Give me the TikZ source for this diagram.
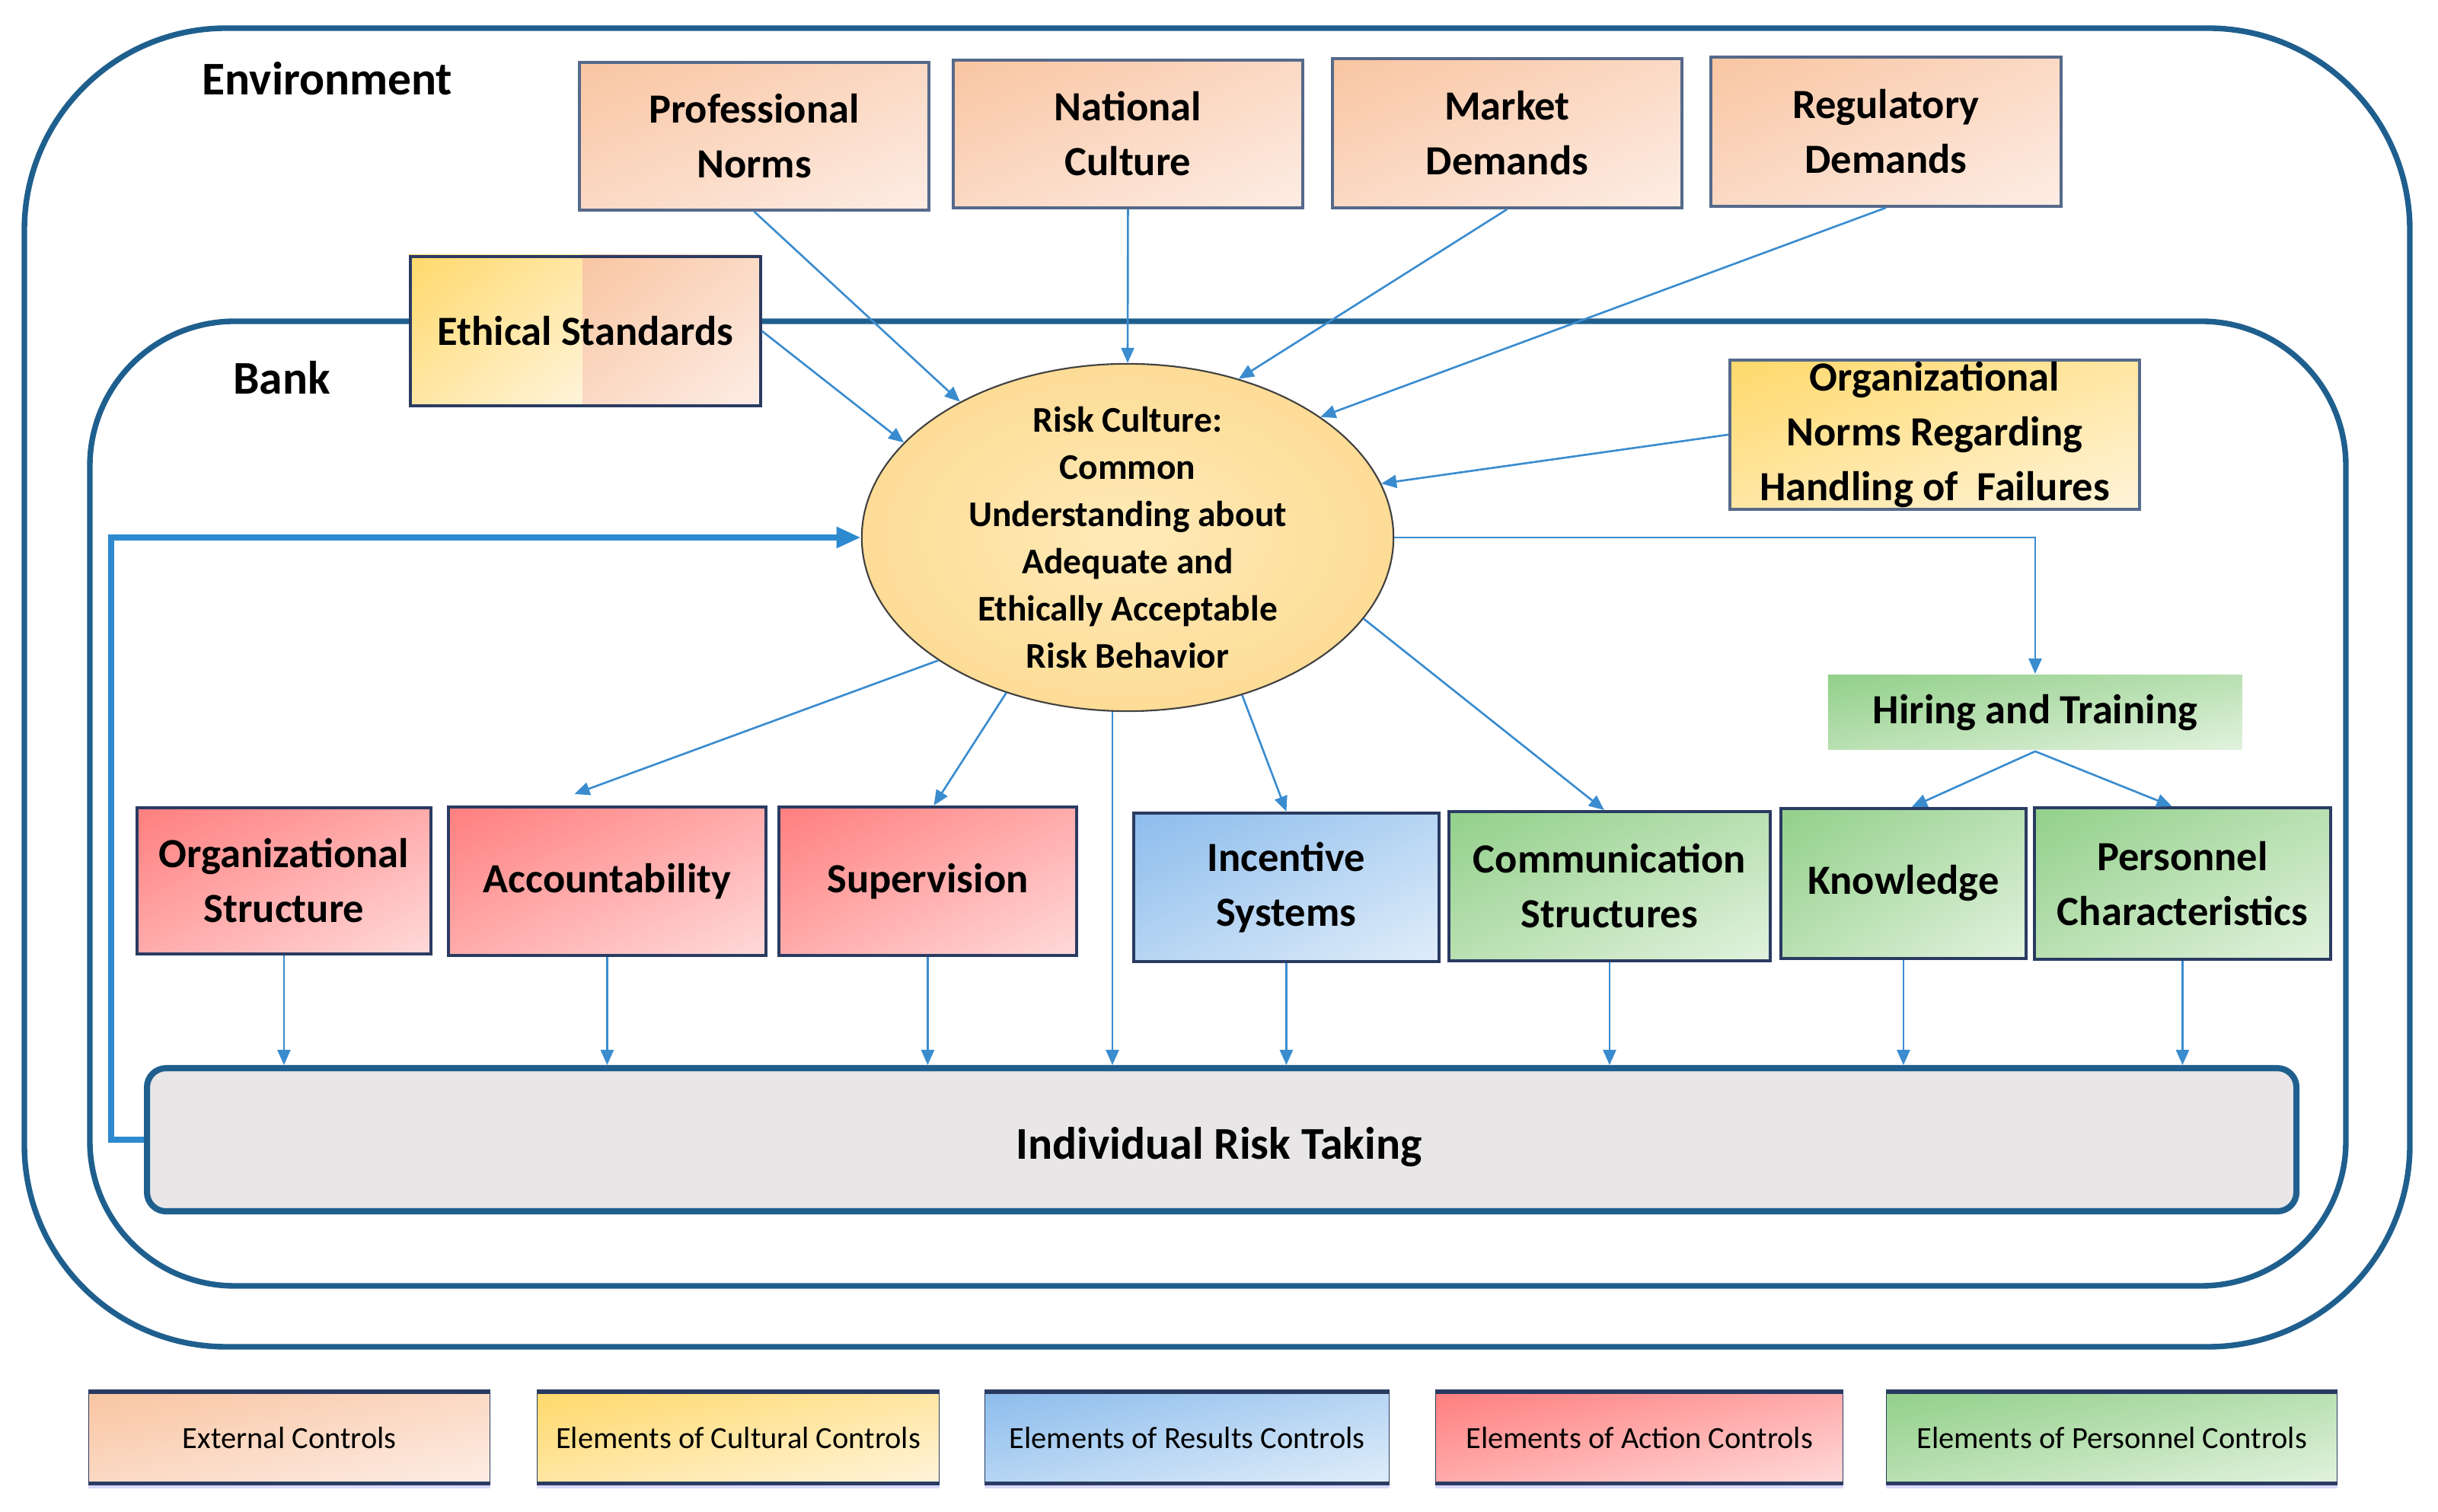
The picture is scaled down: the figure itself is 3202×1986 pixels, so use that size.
\documentclass[tikz,border=0pt]{standalone}
\usepackage{fontspec}
\setmainfont{Carlito}
\usetikzlibrary{arrows.meta,calc,shapes.geometric,shadings}
\definecolor{frame}{HTML}{1F5F8E}
\definecolor{boxline}{HTML}{2A3B62}
\definecolor{extline}{HTML}{55698A}
\definecolor{arrc}{HTML}{3A8CCF}
\definecolor{fbc}{HTML}{2E8AD0}
\definecolor{extA}{HTML}{F9C5A1}\definecolor{extM}{HTML}{FBD9C4}\definecolor{extB}{HTML}{FDEDE5}
\definecolor{cultA}{HTML}{FFD96B}\definecolor{cultM}{HTML}{FFE6A3}\definecolor{cultB}{HTML}{FFF4DA}
\definecolor{resA}{HTML}{8CBCEC}\definecolor{resM}{HTML}{B6D5F3}\definecolor{resB}{HTML}{E0EDFA}
\definecolor{actA}{HTML}{FF7E7E}\definecolor{actM}{HTML}{FFABAB}\definecolor{actB}{HTML}{FFDADA}
\definecolor{perA}{HTML}{92D08A}\definecolor{perM}{HTML}{B9E0B2}\definecolor{perB}{HTML}{E2F2DE}
\definecolor{ellin}{HTML}{FFEAB8}\definecolor{ellout}{HTML}{FDDC96}
\definecolor{irtfill}{HTML}{E8E6E7}
\newcommand\mybox[7]{\node[#6, minimum width={(#4-#2)*0.01cm}, minimum height={(#5-#3)*0.01cm}, anchor=north west] (#1) at (#2,#3) {#7};}
\newcommand\mylegend[5]{%
  \node[#4, draw=boxline, line width=0.4pt, minimum width={(#3-#2)*0.01cm}, minimum height=1.19cm, anchor=north west, font=\fontsize{11.5}{14}\selectfont] (#1) at (#2,1828) {#5};
  \fill[legband] (#1.south west) rectangle ([yshift=-0.07cm]#1.south east);
  \draw[legedge] (#1.north west) -- (#1.north east);
  \draw[legedge] (#1.south west) -- (#1.south east);}
\begin{document}
\begin{tikzpicture}[x=0.01cm,y=-0.01cm,
  every node/.style={font=\bfseries\fontsize{15.5}{20.5}\selectfont, align=center, inner sep=0pt, text=black},
  bx/.style={draw=boxline, line width=1.1pt, rectangle},
  ext/.style={bx, draw=extline, upper left=extA, upper right=extM, lower left=extM, lower right=extB},
  cult/.style={upper left=cultA, upper right=cultM, lower left=cultM, lower right=cultB},
  cultb/.style={bx, draw=extline, cult},
  res/.style={bx, upper left=resA, upper right=resM, lower left=resM, lower right=resB},
  act/.style={bx, upper left=actA, upper right=actM, lower left=actM, lower right=actB},
  per/.style={bx, upper left=perA, upper right=perM, lower left=perM, lower right=perB},
  extsh/.style={upper left=extA, upper right=extM, lower left=extM, lower right=extB},
  framestyle/.style={draw=frame, line width=2.1pt},
  arr/.style={draw=arrc, line width=0.75pt, -{Triangle[length=0.2cm,width=0.17cm]}},
  legedge/.style={draw=boxline, line width=1.5pt},
  legband/.style={fill=black!5!blue!15},
]
\useasboundingbox (0,0) rectangle (3202,1986);
% frames
\draw[framestyle, rounded corners=2.65cm] (32,37) rectangle (3165,1769);
\draw[framestyle, rounded corners=1.9cm] (118,422) rectangle (3081,1689);
\node[anchor=base, font=\bfseries\fontsize{17.5}{20}\selectfont] (envlabel) at (430,125) {Environment};
\node[anchor=base, font=\bfseries\fontsize{17.5}{20}\selectfont] (banklabel) at (370,518) {Bank};
% top external boxes
\mybox{PN}{759}{80}{1218}{274}{ext}{Professional\\Norms}
\mybox{NC}{1250}{77}{1709}{271}{ext}{National\\Culture}
\mybox{MD}{1748}{75}{2207}{271}{ext}{Market\\Demands}
\mybox{RD}{2245}{73}{2705}{269}{ext}{Regulatory\\Demands}
% ethical standards (half cultural, half external)
\shade[cult] (537,335) rectangle (765,531);
\shade[extsh] (765,335) rectangle (997,531);
\mybox{ES}{537}{335}{997}{531}{bx}{Ethical Standards}
% organizational norms
\mybox{ON}{2270}{471}{2808}{667}{cultb}{Organizational\\Norms Regarding\\Handling of\ \ Failures}
% ellipse
\node[ellipse, draw=black!75, line width=0.6pt, inner color=ellin, outer color=ellout,
  minimum width=6.98cm, minimum height=4.56cm] (E) at (1481,706) {};
\node[font=\bfseries\fontsize{13.5}{17.6}\selectfont] (Etext) at (E.center)
  {Risk Culture:\\Common\\Understanding about\\Adequate and\\Ethically Acceptable\\Risk Behavior};
% hiring and training
\mybox{HT}{2399}{885}{2943}{983}{per, draw=none}{Hiring and Training}
% middle row
\mybox{OS}{178}{1059}{564}{1251}{act}{Organizational\\Structure}
\mybox{AC}{587}{1058}{1004}{1253}{act}{Accountability}
\mybox{SU}{1021}{1058}{1412}{1253}{act}{Supervision}
\mybox{IS}{1487}{1066}{1888}{1261}{res}{Incentive\\Systems}
\mybox{CS}{1901}{1064}{2323}{1260}{per}{Communication\\Structures}
\mybox{KN}{2337}{1060}{2659}{1257}{per}{Knowledge}
\mybox{PC}{2670}{1059}{3059}{1258}{per}{Personnel\\Characteristics}
% individual risk taking
\mybox{IRT}{189}{1399}{3012}{1587}{draw=frame, line width=2.3pt, fill=irtfill, rounded corners=0.25cm}{}
\node[anchor=base, font=\bfseries\fontsize{17}{20}\selectfont] (IRTlabel) at (1601,1523) {Individual Risk Taking};
% arrows into ellipse
\draw[arr] (PN.south) -- (E.141);
\draw[arr] (ES.east) -- (E.157);
\draw[arr] (NC.south) -- (E.north);
\draw[arr] (MD.south) -- (E.55);
\draw[arr] (RD.south) -- (E.32);
\draw[arr] (ON.west) -- (E.12);
% arrows out of ellipse
\draw[arr] (E.213) -- ([shift={(-43,-15)}]AC.north);
\draw[arr] (E.232) -- ([shift={(8,0)}]SU.north);
\draw[arr] (E.306) -- (IS.north);
\draw[arr] (E.341) -- ([shift={(-7,0)}]CS.north);
\draw[arr] (E.east) -| (HT.north);
\draw[arr] (HT.south) -- ([shift={(11,0)}]KN.north);
\draw[arr] (HT.south) -- ([shift={(-14,0)}]PC.north);
\draw[arr] (E.265) -- (E.265 |- IRT.north);
% arrows into individual risk taking
\foreach \b in {OS,AC,SU,IS,CS,KN,PC}{\draw[arr] (\b.south) -- (\b.south |- IRT.north);}
% feedback loop
\coordinate (fbk) at (146,706);
\draw[draw=fbc, line width=2.4pt, -{Triangle[length=0.32cm,width=0.26cm]}] (IRT.west) -| (fbk) -- (E.west);
% legend
\mylegend{L1}{116}{643}{extsh}{External Controls}
\mylegend{L2}{705}{1233}{cult}{Elements of Cultural Controls}
\mylegend{L3}{1293}{1824}{upper left=resA, upper right=resM, lower left=resM, lower right=resB}{Elements of Results Controls}
\mylegend{L4}{1885}{2420}{upper left=actA, upper right=actM, lower left=actM, lower right=actB}{Elements of Action Controls}
\mylegend{L5}{2477}{3069}{upper left=perA, upper right=perM, lower left=perM, lower right=perB}{Elements of Personnel Controls}
\end{tikzpicture}
\end{document}
